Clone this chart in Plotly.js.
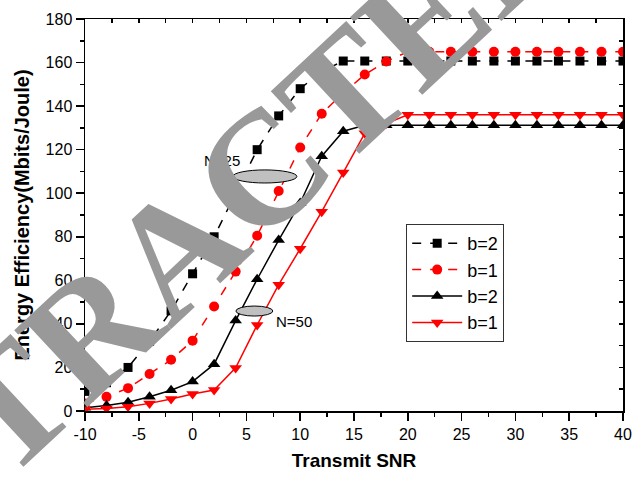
<!DOCTYPE html>
<html>
<head>
<meta charset="utf-8">
<script src="https://cdn.plot.ly/plotly-3.0.1.min.js"></script>
<style>
html,body{margin:0;padding:0;background:#fff;}
#chart{width:632px;height:477px;}
</style>
</head>
<body>
<div id="chart"></div>
<script>
// Transmit SNR (dB)
const snr = [-10,-8,-6,-4,-2,0,2,4,6,8,10,12,14,16,18,20,22,24,26,28,30,32,34,36,38,40];
// N=25, b=2 (black squares, dashed)
const n25b2 = [9,13,20,32,46,63,80,100,120,135.5,148,156,160.7,160.7,160.7,160.7,160.7,160.7,160.7,160.7,160.7,160.7,160.7,160.7,160.7,160.7];
// N=25, b=1 (red circles, dashed)
const n25b1 = [3.5,6.5,10.5,17,23.5,32.3,48,64,80.5,101,121,136.5,146,154.5,160.5,165,165,165,165,165,165,165,165,165,165,165];
// N=50, b=2 (black up-triangles, solid)
const n50b2 = [1.5,2.5,4,6.5,9.5,13.5,21.5,41.5,60.5,78.5,95.5,117,128.5,131.2,131.2,131.2,131.2,131.2,131.2,131.2,131.2,131.2,131.2,131.2,131.2,131.2];
// N=50, b=1 (red down-triangles, solid)
const n50b1 = [0.8,1.2,2,3.5,5.5,7.8,9.6,19.8,39.5,58,74.5,91.5,109.5,127.5,132,136,136,136,136,136,136,136,136,136,136,136];

const seriesNames = ["b=2","b=1","b=2","b=1"];
const xTickVals = [-10,-5,0,5,10,15,20,25,30,35,40];
const xTickText = ["-10","-5","0","5","10","15","20","25","30","35","40"];
const xTitle = "Transmit SNR";
const yTitle = "Energy Efficiency(Mbits/Joule)";
const labelN25 = "N=25";
const labelN50 = "N=50";
const watermark = "RETRACTED";

const FONT = "Arial, 'Liberation Sans', sans-serif";

const traces = [
  {x: snr, y: n25b2, name: seriesNames[0], mode: "lines+markers",
   line: {color: "#000000", width: 1.5, dash: "dash"},
   marker: {symbol: "square", size: 9, color: "#000000"}},
  {x: snr, y: n25b1, name: seriesNames[1], mode: "lines+markers",
   line: {color: "#ff0000", width: 1.5, dash: "dash"},
   marker: {symbol: "circle", size: 10, color: "#ff0000"}},
  {x: snr, y: n50b2, name: seriesNames[2], mode: "lines+markers",
   line: {color: "#000000", width: 1.5},
   marker: {symbol: "triangle-up", size: 11, color: "#000000"}},
  {x: snr, y: n50b1, name: seriesNames[3], mode: "lines+markers",
   line: {color: "#ff0000", width: 1.5},
   marker: {symbol: "triangle-down", size: 11, color: "#ff0000"}},
  {x: [], y: [], xaxis: "x2", yaxis: "y2", showlegend: false, hoverinfo: "skip", mode: "markers"}
];

const layout = {
  width: 632, height: 477,
  margin: {l: 85, r: 9, t: 19, b: 66},
  paper_bgcolor: "#ffffff", plot_bgcolor: "#ffffff",
  font: {family: FONT, color: "#000000", size: 16},
  showlegend: true,
  legend: {
    x: 0.597, y: 0.477, xanchor: "left", yanchor: "top",
    bgcolor: "#ffffff", bordercolor: "#333333", borderwidth: 1,
    font: {family: FONT, size: 18, color: "#000000"},
    tracegroupgap: 0, itemwidth: 50
  },
  xaxis: {
    range: [-10, 40], tickmode: "array", tickvals: xTickVals, ticktext: xTickText,
    showgrid: false, zeroline: false,
    showline: true, linecolor: "#000000", linewidth: 1.5, mirror: true,
    ticks: "outside", ticklen: 8, tickwidth: 1.5, tickcolor: "#000000",
    minor: {ticks: "outside", ticklen: 4, tickwidth: 1.5, dtick: 2.5, tick0: -10, tickcolor: "#000000"},
    tickfont: {family: FONT, size: 16, color: "#000000"},
    title: {text: xTitle, font: {family: FONT, size: 19, color: "#000000", weight: "bold"}, standoff: 12}
  },
  yaxis: {
    range: [0, 180], tick0: 0, dtick: 20,
    showgrid: false, zeroline: false,
    showline: true, linecolor: "#000000", linewidth: 1.5, mirror: true,
    ticks: "outside", ticklen: 8, tickwidth: 1.5, tickcolor: "#000000",
    minor: {ticks: "outside", ticklen: 4, tickwidth: 1.5, dtick: 10, tick0: 0, tickcolor: "#000000"},
    tickfont: {family: FONT, size: 16, color: "#000000"},
    title: {text: yTitle, font: {family: FONT, size: 20, color: "#000000", weight: "bold"}, standoff: 10}
  },
  xaxis2: {
    overlaying: "x", side: "top", anchor: "y2", matches: "x",
    range: [-10, 40], tick0: -10, dtick: 2.5,
    showgrid: false, zeroline: false, showline: false, showticklabels: false,
    ticks: "inside", ticklen: 4, tickwidth: 1.5, tickcolor: "#000000"
  },
  yaxis2: {
    overlaying: "y", side: "right", anchor: "x2",
    range: [0, 180], tick0: 0, dtick: 10,
    showgrid: false, zeroline: false, showline: false, showticklabels: false,
    ticks: "inside", ticklen: 4, tickwidth: 1.5, tickcolor: "#000000"
  },
  shapes: [
    {type: "circle", xref: "x", yref: "y", x0: 3.74, x1: 9.69, y0: 104.7, y1: 110.7,
     fillcolor: "#c0c0c0", line: {color: "#000000", width: 1}},
    {type: "circle", xref: "x", yref: "y", x0: 4.02, x1: 7.46, y0: 43.6, y1: 48.2,
     fillcolor: "#c0c0c0", line: {color: "#000000", width: 1}}
  ],
  annotations: [
    {text: labelN25, x: 2.72, y: 115.2, xref: "x", yref: "y", showarrow: false,
     font: {family: FONT, size: 15, color: "#000000"}},
    {text: labelN50, x: 9.41, y: 40.9, xref: "x", yref: "y", showarrow: false,
     font: {family: FONT, size: 15, color: "#000000"}},
    {text: watermark, x: 0.168, y: 0.41, xref: "paper", yref: "paper", xanchor: "center", yanchor: "middle",
     showarrow: false, textangle: -43,
     font: {family: "'Liberation Serif', 'DejaVu Serif', serif", size: 162, weight: "bold", color: "#999999"}}
  ]
};

Plotly.newPlot("chart", traces, layout, {displayModeBar: false, staticPlot: true});
</script>
</body>
</html>
